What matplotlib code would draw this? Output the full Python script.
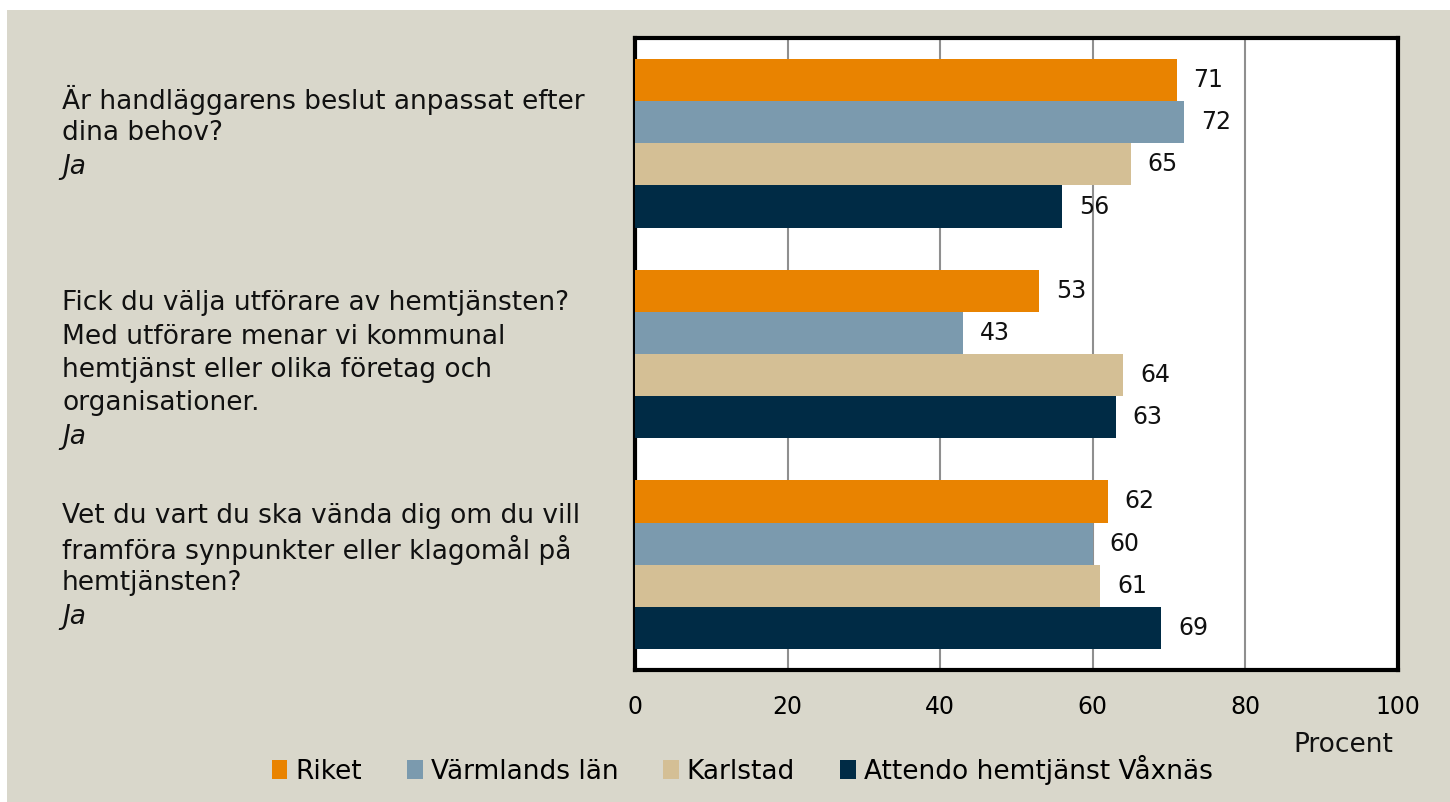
import matplotlib
matplotlib.use("Agg")
import matplotlib.pyplot as plt
import matplotlib.transforms as mtransforms
from matplotlib.patches import Rectangle, Patch
import numpy as np

plt.rcParams['font.family'] = ['DejaVu Sans']

questions = [
    ["Är handläggarens beslut anpassat efter", "dina behov?"],
    ["Fick du välja utförare av hemtjänsten?", "Med utförare menar vi kommunal",
     "hemtjänst eller olika företag och", "organisationer."],
    ["Vet du vart du ska vända dig om du vill", "framföra synpunkter eller klagomål på",
     "hemtjänsten?"],
]
answer = "Ja"
series = ["Riket", "Värmlands län", "Karlstad", "Attendo hemtjänst Våxnäs"]
values = {
    "Riket": [71, 53, 62],
    "Värmlands län": [72, 43, 60],
    "Karlstad": [65, 64, 61],
    "Attendo hemtjänst Våxnäs": [56, 63, 69],
}
colors = ["#E98300", "#7B9AAE", "#D4BF95", "#002B45"]
xticks = [0, 20, 40, 60, 80, 100]

# layout nudges for the label blocks (pixels, positive = down)
label_shift_px = [-10, 16, 2]

W, H = 1450, 802
fig = plt.figure(figsize=(W / 100, H / 100), dpi=100)
fig.patch.set_facecolor("white")
fig.patches.append(Rectangle((7 / W, 0), 1 - 7 / W, 1 - 10 / H, transform=fig.transFigure,
                             facecolor="#D9D7CB", edgecolor="none", zorder=-10))

ax = fig.add_axes([635 / W, 1 - 670 / H, (1398 - 635) / W, (670 - 38) / H])
ax.set_facecolor("white")

y = np.arange(len(questions))
bh = 0.2
for i, s in enumerate(series):
    bars = ax.barh(y + (i - 1.5) * bh, values[s], height=bh, color=colors[i],
                   edgecolor="none", zorder=3, label=s)
    ax.bar_label(bars, padding=12, fontsize=17, color="#111111")

ax.set_xlim(0, 100)
ax.set_ylim(len(questions) - 0.5, -0.5)
ax.set_xticks(xticks)
ax.set_xticklabels([str(t) for t in xticks], fontsize=17)
ax.set_yticks([])
ax.tick_params(axis="x", length=0, pad=18)
ax.grid(axis="x", color="#8F8F8F", linewidth=1.5, zorder=0)
for sp in ax.spines.values():
    sp.set_linewidth(3)
    sp.set_color("black")

# question labels
base = mtransforms.blended_transform_factory(fig.transFigure, ax.transData)
L = 33.5
for gi, q in enumerate(questions):
    lines = q + [answer]
    n = len(lines)
    for li, txt in enumerate(lines):
        dy = (li - (n - 1) / 2) * L + label_shift_px[gi]
        tr = base + mtransforms.ScaledTranslation(0, -dy / 100, fig.dpi_scale_trans)
        ax.text(62 / W, gi, txt, transform=tr, ha="left", va="center", fontsize=19,
                style="italic" if li == n - 1 else "normal", color="#111111",
                clip_on=False)

fig.text(1343 / W, 1 - 745 / H, "Procent", ha="center", va="center", fontsize=19,
         color="#111111")

handles = [Patch(facecolor=c, edgecolor="none") for c in colors]
fig.legend(handles, series, loc="center", bbox_to_anchor=(742 / W, 1 - 770 / H), ncol=4,
           frameon=False, fontsize=19, handlelength=0.6, handleheight=0.75,
           handletextpad=0.3, columnspacing=1.7, borderaxespad=0)

fig.savefig("out.png", dpi=100, facecolor=fig.get_facecolor())
